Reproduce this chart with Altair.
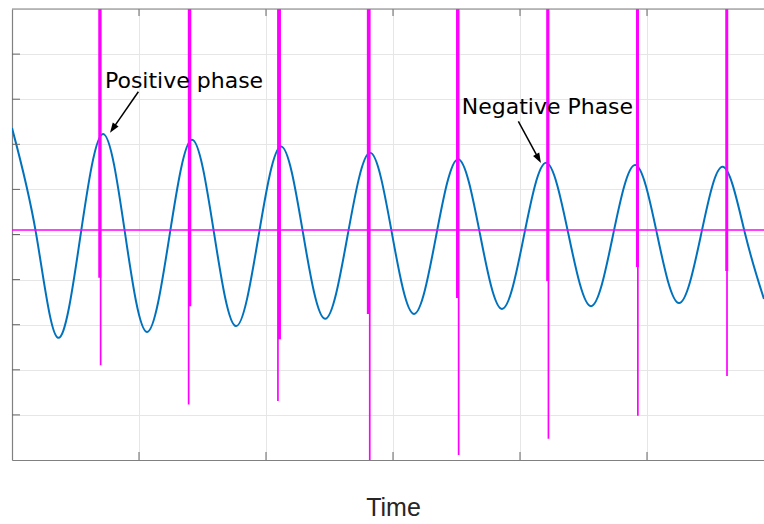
import altair as alt
import pandas as pd

# ---- data ----------------------------------------------------------------
# blue oscillation: time / value at peaks, zero crossings and troughs
wave_t = [0.000, 0.189, 0.362, 0.539, 0.717, 0.890, 1.063, 1.240, 1.417,
          1.591, 1.764, 1.941, 2.118, 2.291, 2.465, 2.642, 2.819, 2.992,
          3.165, 3.339, 3.512, 3.685, 3.858, 4.031, 4.205, 4.382, 4.559,
          4.732, 4.906, 5.079, 5.252, 5.425, 5.598, 5.772, 5.921]
wave_v = [7.36, 5.03, 2.71, 4.97, 7.23, 5.03, 2.84, 4.97, 7.10,
          5.03, 2.97, 4.96, 6.95, 5.04, 3.13, 4.97, 6.81, 5.02,
          3.24, 4.96, 6.67, 5.01, 3.35, 4.97, 6.59, 5.00, 3.41,
          4.98, 6.54, 5.01, 3.48, 4.99, 6.50, 5.02, 3.57]

# magenta pulses: thick part (from the top) and thin tail
spike_t = [0.691, 1.400, 2.106, 2.806, 3.508, 4.218, 4.925, 5.628]
spike_thick_end = [4.04, 3.41, 2.68, 3.24, 3.59, 3.97, 4.28, 4.19]
tail_t = [0.698, 1.391, 2.094, 2.817, 3.517, 4.224, 4.928, 5.630]
tail_end = [2.10, 1.23, 1.31, 0.00, 0.11, 0.47, 0.98, 1.86]

# magenta horizontal reference level
level = [5.10]

x_ticks = [0, 1, 2, 3, 4, 5]
y_ticks = [0, 1, 2, 3, 4, 5, 6, 7, 8, 9, 10]

labels = ["Positive phase", "Negative Phase"]
label_t = [0.732, 3.541]
label_v = [8.24, 7.67]

# arrows (start -> head)
arrow_t = [0.995, 3.987]
arrow_v = [8.166, 7.510]
arrow_t2 = [0.794, 4.146]
arrow_v2 = [7.348, 6.683]
arrow_angle = [214.3, 151.4]

# ---- chart -----------------------------------------------------------------
W, H = 752, 451
XMAX = W / 127.0
xs = alt.Scale(domain=[0, XMAX], nice=False, zero=False)
ys = alt.Scale(domain=[0, 10], nice=False, zero=False)
XAX = alt.Axis(values=x_ticks, labels=False, ticks=False, grid=True, domain=True)
YAX = alt.Axis(values=y_ticks, labels=False, ticks=False, grid=True, domain=True)


def X(f):
    return alt.X(f, scale=xs, axis=XAX, title="Time")


def Y(f):
    return alt.Y(f, scale=ys, axis=YAX, title=None)


wave_df = pd.DataFrame({"t": wave_t, "v": wave_v})
spike_df = pd.DataFrame({"t": spike_t, "v": spike_thick_end})
tail_df = pd.DataFrame({"t": tail_t, "v": tail_end})
level_df = pd.DataFrame({"v": level})
lab_df = pd.DataFrame({"t": label_t, "v": label_v, "text": labels})
arr_df = pd.DataFrame({"t": arrow_t, "v": arrow_v, "t2": arrow_t2, "v2": arrow_v2,
                       "a": arrow_angle})

wave = alt.Chart(wave_df).mark_line(
    color="#0072BD", strokeWidth=2, interpolate="natural", clip=True
).encode(x=X("t:Q"), y=Y("v:Q"))

tails = alt.Chart(tail_df).mark_rule(color="#FF00FF", strokeWidth=1.7, clip=True).encode(
    x=X("t:Q"), y=Y("v:Q"), y2=alt.value(0))
spikes = alt.Chart(spike_df).mark_rule(color="#FF00FF", strokeWidth=3, clip=True).encode(
    x=X("t:Q"), y=Y("v:Q"), y2=alt.value(0))
hline = alt.Chart(level_df).mark_rule(color="#FF00FF", strokeWidth=1.5).encode(
    y=Y("v:Q"), x=alt.value(0), x2=alt.value(W))

tick_col = "#666666"
left_ticks = alt.Chart(pd.DataFrame({"v": y_ticks[1:-1]})).mark_rule(
    color=tick_col, strokeWidth=1).encode(
    y=Y("v:Q"), x=alt.value(0), x2=alt.value(8))
bottom_ticks = alt.Chart(pd.DataFrame({"t": x_ticks[1:]})).mark_rule(
    color=tick_col, strokeWidth=1).encode(
    x=X("t:Q"), y=alt.value(H), y2=alt.value(H - 8))
top_ticks = alt.Chart(pd.DataFrame({"t": x_ticks[1:]})).mark_rule(
    color=tick_col, strokeWidth=1).encode(
    x=X("t:Q"), y=alt.value(0), y2=alt.value(7))
top_border = alt.Chart(pd.DataFrame({"v": [10]})).mark_rule(
    color="#808080", strokeWidth=1.2).encode(
    y=Y("v:Q"), x=alt.value(0), x2=alt.value(W))

texts = alt.Chart(lab_df).mark_text(
    align="left", baseline="alphabetic", font="DejaVu Sans", fontSize=22,
    color="black").encode(x=X("t:Q"), y=Y("v:Q"), text="text:N")
arrow_lines = alt.Chart(arr_df).mark_rule(color="black", strokeWidth=1.5).encode(
    x=X("t:Q"), y=Y("v:Q"),
    x2=alt.X2("t2:Q", title="Time"), y2=alt.Y2("v2:Q", title=None))
arrow_heads = alt.Chart(arr_df).mark_point(
    shape="M0,-1L0.7,1L-0.7,1Z", filled=True, color="black", size=100, opacity=1
).encode(x=X("t2:Q"), y=Y("v2:Q"), angle=alt.Angle("a:Q", scale=None))

chart = alt.layer(
    wave, tails, spikes, hline, left_ticks, bottom_ticks, top_ticks, top_border,
    texts, arrow_lines, arrow_heads
).properties(
    width=W, height=H,
    autosize=alt.AutoSizeParams(type="none"),
    padding={"left": 12, "top": 9, "right": 0, "bottom": 64},
    background="white",
).configure_view(
    strokeWidth=0
).configure_axis(
    gridColor="#e6e6e6", gridWidth=1, domainColor="#808080", domainWidth=1.2,
    titleFont="Liberation Sans", titleFontSize=25, titleFontWeight="normal",
    titleColor="#262626",
).configure_axisX(
    titleX=381, titleY=55, titleBaseline="alphabetic", titleAlign="center",
)

chart.save("out.html", embed_options={"renderer": "svg", "actions": False})
